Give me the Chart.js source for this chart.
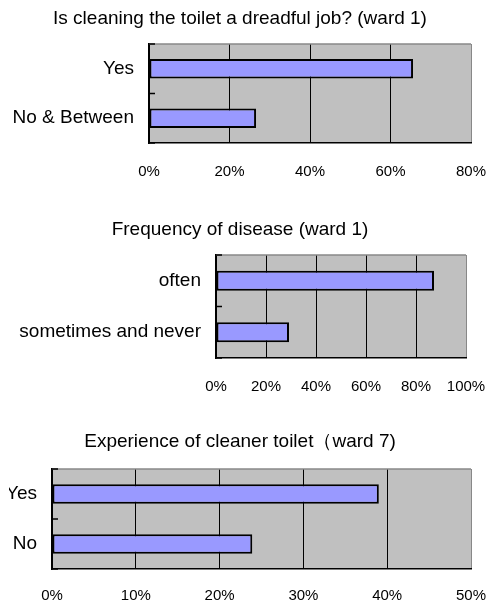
<!DOCTYPE html>
<html>
<head>
<meta charset="utf-8">
<script src="https://cdn.jsdelivr.net/npm/chart.js@4/dist/chart.umd.min.js"></script>
<style>
  html, body { margin: 0; padding: 0; background: #fff; }
  body { position: relative; width: 488px; height: 605px; overflow: hidden; }
  canvas { position: absolute; left: 0; }
</style>
</head>
<body>
<canvas id="c1"></canvas>
<canvas id="c2"></canvas>
<canvas id="c3"></canvas>
<script>
// Survey answers, percent of respondents
const titles = [
  'Is cleaning the toilet a dreadful job? (ward 1)',
  'Frequency of disease (ward 1)',
  'Experience of cleaner toilet\uFF08ward 7)'
];
const dreadfulLabels = ['Yes', 'No & Between'];
const dreadfulValues = [65.6, 26.6];
const diseaseLabels = ['often', 'sometimes and never'];
const diseaseValues = [87.2, 29.2];
const cleanerLabels = ['Yes', 'No'];
const cleanerValues = [39.0, 23.9];
const axisMax = [80, 100, 50];
const axisStep = [20, 20, 10];

const FONT = "'Liberation Sans', Arial, sans-serif";
const TITLE_SIZE = 19;
const TITLE_LINE = TITLE_SIZE * 1.2;

// gray plot background, gray top edge and short inward ticks on the category axis
const framePlugin = {
  id: 'frame',
  beforeDraw(chart) {
    const a = chart.chartArea, ctx = chart.ctx;
    ctx.save();
    ctx.fillStyle = '#C0C0C0';
    ctx.fillRect(a.left, a.top, a.right - a.left, a.bottom - a.top);
    ctx.restore();
  },
  afterDraw(chart) {
    const a = chart.chartArea, ctx = chart.ctx;
    const y = chart.scales.y;
    ctx.save();
    ctx.strokeStyle = '#888888';
    ctx.lineWidth = 1.5;
    ctx.beginPath();
    ctx.moveTo(a.left, a.top);
    ctx.lineTo(a.right, a.top);
    ctx.stroke();
    ctx.strokeStyle = '#000';
    ctx.lineWidth = 1.5;
    const n = y.ticks.length;
    const band = (y.getPixelForValue(n - 1) - y.getPixelForValue(0)) / Math.max(1, n - 1);
    ctx.beginPath();
    for (let i = 0; i <= n; i++) {
      const py = y.getPixelForValue(0) - band / 2 + band * i;
      ctx.moveTo(a.left - 1, py);
      ctx.lineTo(a.left + 6, py);
    }
    ctx.stroke();
    ctx.restore();
  }
};

function makeChart(id, cfg) {
  const cv = document.getElementById(id);
  cv.width = 488;
  cv.height = cfg.height;
  cv.style.top = cfg.top + 'px';
  return new Chart(cv, {
    type: 'bar',
    data: {
      labels: cfg.labels,
      datasets: [{
        data: cfg.values,
        backgroundColor: '#9999FF',
        borderColor: '#000',
        borderWidth: 2,
        borderSkipped: false,
        barPercentage: 0.39,
        categoryPercentage: 1
      }]
    },
    options: {
      indexAxis: 'y',
      responsive: false,
      animation: false,
      devicePixelRatio: 1,
      layout: { padding: { left: cfg.padL, right: cfg.padR, top: 0, bottom: 0 } },
      plugins: {
        legend: { display: false },
        tooltip: { enabled: false },
        title: {
          display: true,
          text: cfg.title,
          color: '#000',
          font: { family: FONT, size: TITLE_SIZE, weight: 'normal', lineHeight: 1.2 },
          padding: { top: cfg.titleTop, bottom: cfg.areaTop - cfg.titleTop - TITLE_LINE }
        }
      },
      scales: {
        x: {
          min: 0,
          max: cfg.max,
          afterFit(s) {
            s.height = cfg.height - cfg.areaBottom;
            s.paddingLeft = 0;
            s.paddingRight = 0;
          },
          ticks: {
            stepSize: cfg.step,
            color: '#000',
            padding: cfg.tickPad,
            maxRotation: 0,
            font: { family: FONT, size: 15 },
            callback: v => v + '%'
          },
          grid: {
            drawTicks: false,
            lineWidth: 1,
            color: ctx => (ctx.index === Math.round(cfg.max / cfg.step) ? '#888888' : '#000')
          },
          border: { display: true, color: '#000', width: 1.5 }
        },
        y: {
          afterFit(s) { s.width = cfg.yWidth; },
          ticks: {
            color: '#000',
            padding: 15,
            font: { family: FONT, size: 19 }
          },
          grid: { display: false, drawTicks: false },
          border: { display: true, color: '#000', width: 1.5 }
        }
      }
    },
    plugins: [framePlugin]
  });
}

makeChart('c1', {
  top: 0, height: 200, areaTop: 44, areaBottom: 143, titleTop: 7, tickPad: 20,
  padL: 9, padR: 17, yWidth: 140,
  title: titles[0], labels: dreadfulLabels, values: dreadfulValues,
  max: axisMax[0], step: axisStep[0]
});
makeChart('c2', {
  top: 211, height: 200, areaTop: 44, areaBottom: 147, titleTop: 7, tickPad: 20,
  padL: 14, padR: 22, yWidth: 202,
  title: titles[1], labels: diseaseLabels, values: diseaseValues,
  max: axisMax[1], step: axisStep[1]
});
makeChart('c3', {
  top: 423, height: 182, areaTop: 46, areaBottom: 146, titleTop: 7, tickPad: 18,
  padL: 9, padR: 17, yWidth: 43,
  title: titles[2], labels: cleanerLabels, values: cleanerValues,
  max: axisMax[2], step: axisStep[2]
});
</script>
</body>
</html>
